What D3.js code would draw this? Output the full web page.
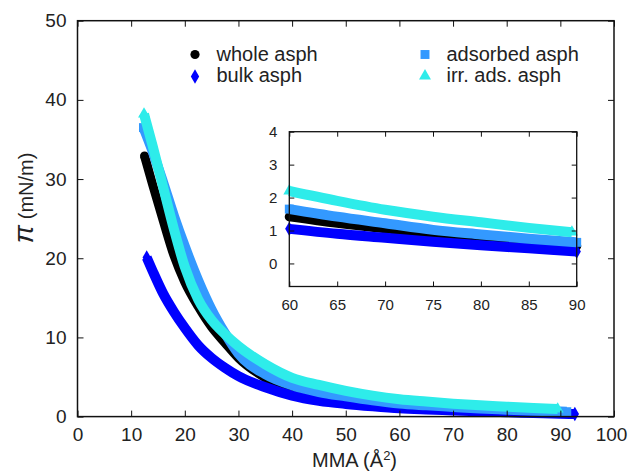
<!DOCTYPE html>
<html><head><meta charset="utf-8">
<script src="https://d3js.org/d3.v7.min.js"></script>
<style>
html,body{margin:0;padding:0;background:#fff;}
</style></head>
<body><div id="chart"></div>
<script>
// ---- data ----
const seriesNames = ["whole asph", "bulk asph", "adsorbed asph", "irr. ads. asph"];
const seriesColors = ["#000000", "#0000ff", "#3399ff", "#2eecea"];
const seriesSymbols = ["circle", "diamond", "square", "triangle"];

const wholeX = [12.5, 14, 16, 18, 20, 22.5, 25, 27.5, 30, 35, 40, 45, 50, 55, 60, 65, 70, 75, 80, 85, 90, 91.5];
const wholeY = [32.9, 29.3, 24.7, 20.3, 17.0, 13.9, 11.3, 9.3, 7.4, 4.9, 3.4, 2.7, 2.2, 1.78, 1.42, 1.22, 1.05, 0.9, 0.76, 0.64, 0.53, 0.5];

const bulkX = [12.9, 14, 16, 18, 20, 22.5, 25, 27.5, 30, 35, 40, 45, 50, 55, 60, 65, 70, 75, 80, 85, 90, 92.7];
const bulkY = [20.1, 18.4, 15.5, 13.2, 11.2, 9.0, 7.4, 6.15, 5.1, 3.7, 2.65, 2.0, 1.6, 1.3, 1.05, 0.9, 0.78, 0.66, 0.55, 0.46, 0.36, 0.32];

const adsX = [12.3, 14, 16, 18, 20, 22.5, 25, 27.5, 30, 35, 40, 45, 50, 55, 60, 65, 70, 75, 80, 85, 90, 91.2];
const adsY = [36.5, 33.5, 29.5, 25.3, 21.5, 17.2, 13.5, 10.5, 7.95, 5.35, 3.95, 3.1, 2.55, 2.05, 1.65, 1.42, 1.22, 1.02, 0.88, 0.75, 0.64, 0.62];

const irrX = [12.4, 14, 16, 18, 20, 22.5, 25, 27.5, 30, 35, 40, 45, 50, 55, 60, 65, 70, 75, 80, 85, 89.5];
const irrY = [38.2, 34.2, 28.9, 23.6, 18.9, 14.8, 12.2, 10.4, 8.9, 6.6, 4.9, 4.0, 3.25, 2.65, 2.2, 1.9, 1.63, 1.42, 1.25, 1.08, 0.95];

const mainXTicks = [0, 10, 20, 30, 40, 50, 60, 70, 80, 90, 100];
const mainYTicks = [0, 10, 20, 30, 40, 50];
const insetXTicks = [60, 65, 70, 75, 80, 85, 90];
const insetYTicks = [0, 1, 2, 3, 4];

// ---- build ----
const W = 629, H = 472;
const FONT = '"Liberation Sans", Arial, sans-serif';
const svg = d3.select("#chart").append("svg").attr("width", W).attr("height", H);

const series = [
  {x: wholeX, y: wholeY},
  {x: bulkX, y: bulkY},
  {x: adsX, y: adsY},
  {x: irrX, y: irrY}
].map((s, i) => ({
  name: seriesNames[i], color: seriesColors[i], sym: seriesSymbols[i],
  pts: s.x.map((v, j) => [v, s.y[j]])
}));
const widths = [9, 10, 10, 10];

const symType = {circle: d3.symbolCircle, diamond: d3.symbolDiamond, square: d3.symbolSquare, triangle: d3.symbolTriangle};
const symSize = {circle: 66, diamond: 60, square: 80, triangle: 62};

function drawPanel(g, xs, ys, xTicks, yTicks, opt) {
  const [x0, x1] = xs.range();
  const [y0, y1] = ys.range();
  const line = d3.line().x(d => xs(d[0])).y(d => ys(d[1])).curve(d3.curveMonotoneX);
  const [dx0, dx1] = xs.domain();
  series.forEach((s, i) => {
    const pts = s.pts.filter(p => p[0] >= dx0 - 1e-9 && p[0] <= dx1 + 1e-9);
    if (!pts.length) return;
    g.append("path").attr("d", line(pts)).attr("fill", "none")
      .attr("stroke", s.color).attr("stroke-width", widths[i])
      .attr("stroke-linejoin", "round").attr("stroke-linecap", "butt");
    [pts[0], pts[pts.length - 1]].forEach(p => {
      g.append("path").attr("d", d3.symbol(symType[s.sym], symSize[s.sym])())
        .attr("transform", `translate(${xs(p[0])},${ys(p[1])})`).attr("fill", s.color);
    });
  });
  const tk = opt.tick;
  const bx = g.append("g").attr("transform", `translate(0,${y0})`)
    .call(d3.axisBottom(xs).tickValues(xTicks).tickSize(-tk).tickPadding(opt.xpad).tickFormat(d3.format("d")));
  const tx = g.append("g").attr("transform", `translate(0,${y1})`)
    .call(d3.axisTop(xs).tickValues(xTicks).tickSize(-tk).tickFormat(""));
  const ly = g.append("g").attr("transform", `translate(${x0},0)`)
    .call(d3.axisLeft(ys).tickValues(yTicks).tickSize(-tk).tickPadding(opt.ypad).tickFormat(d3.format("d")));
  const ry = g.append("g").attr("transform", `translate(${x1},0)`)
    .call(d3.axisRight(ys).tickValues(yTicks).tickSize(-tk).tickFormat(""));
  [bx, tx, ly, ry].forEach(a => {
    a.attr("font-family", null).attr("font-size", null);
    a.select(".domain").remove();
    a.selectAll(".tick line").attr("stroke", "#111").attr("stroke-width", 1);
    a.selectAll("text").style("font-family", FONT)
      .style("font-size", opt.fs + "px").attr("fill", "#222");
  });
  // keep the last bottom label inside the picture
  bx.selectAll(".tick text").filter(d => d === 100).attr("dx", -3);
  g.append("rect").attr("x", x0).attr("y", y1).attr("width", x1 - x0).attr("height", y0 - y1)
    .attr("fill", "none").attr("stroke", "#111").attr("stroke-width", opt.frame);
}

// main panel
const xMain = d3.scaleLinear().domain([0, 100]).range([77.5, 614]);
const yMain = d3.scaleLinear().domain([0, 50]).range([416.6, 20.7]);
drawPanel(svg.append("g"), xMain, yMain, mainXTicks, mainYTicks,
  {tick: 6, xpad: 11, ypad: 11, fs: 19, frame: 1.5});

// inset panel
const xIn = d3.scaleLinear().domain([60, 90]).range([289.3, 576.7]);
const yIn = d3.scaleLinear().domain([-0.7, 4]).range([286.5, 131.7]);
const gi = svg.append("g");
gi.append("rect").attr("x", 289.3).attr("y", 131.7).attr("width", 287.4).attr("height", 154.8).attr("fill", "#fff");
drawPanel(gi, xIn, yIn, insetXTicks, insetYTicks,
  {tick: 5, xpad: 13, ypad: 12, fs: 15, frame: 1.3});

// legend
const leg = [
  {i: 0, mx: 195, my: 54.5, tx: 216.5, ty: 60.5},
  {i: 1, mx: 195, my: 76.5, tx: 216.5, ty: 81.5},
  {i: 2, mx: 425, my: 54.5, tx: 446.5, ty: 60.5},
  {i: 3, mx: 425, my: 76, tx: 446.5, ty: 81.5}
];
leg.forEach(l => {
  const s = series[l.i];
  svg.append("path").attr("d", d3.symbol(symType[s.sym], symSize[s.sym])())
    .attr("transform", `translate(${l.mx},${l.my})`).attr("fill", s.color);
  svg.append("text").attr("x", l.tx).attr("y", l.ty).style("font-size", "20px")
    .style("font-family", FONT).attr("fill", "#222").text(s.name);
});

// axis labels
svg.append("text").attr("x", 312).attr("y", 467).style("font-size", "20px").style("font-family", FONT).attr("fill", "#222")
  .html('MMA (Å<tspan font-size="13" dy="-7">2</tspan><tspan dy="7">)</tspan>');
svg.append("text").attr("transform", "translate(33,198) rotate(-90)").attr("text-anchor", "middle")
  .style("font-size", "20px").style("font-family", FONT).attr("fill", "#222")
  .html('<tspan font-size="27" font-style="italic">π</tspan><tspan dx="6">(mN/m)</tspan>');
</script>
</body></html>
